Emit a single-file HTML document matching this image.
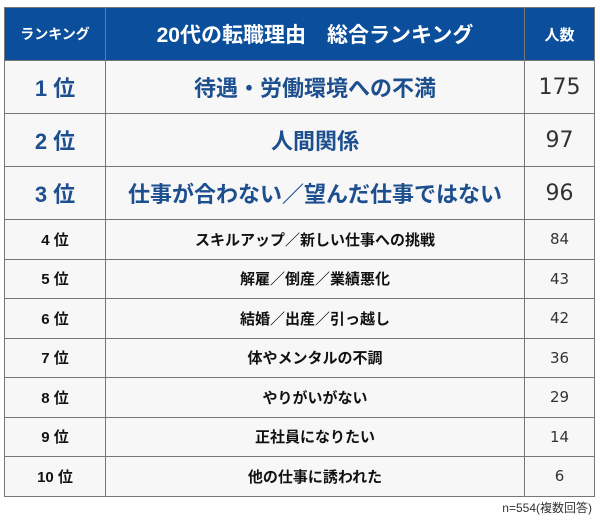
<!DOCTYPE html>
<html><head><meta charset="utf-8"><style>
body{margin:0;width:600px;height:520px;background:#fff;font-family:"Liberation Sans","Noto Sans CJK JP",sans-serif;overflow:hidden}
table{position:absolute;left:4px;top:7px;border-collapse:collapse;width:591px}
td{border:1px solid #777;background:#f7f7f8;text-align:center;padding:0}
th{background:#0b4e9b;color:#fff;border:1px solid #777;font-weight:bold;padding:0}
.c1{width:100px}.c3{width:69px}
.big td{height:52px;color:#1d4f8f;font-weight:bold;font-size:22px}
.big td.n{color:#333;font-weight:normal;font-size:22px;font-family:"DejaVu Sans",sans-serif}
.sm td{height:38.5px;font-weight:bold;font-size:15px;color:#111}
.sm td.n{font-weight:normal;font-family:"DejaVu Sans",sans-serif;color:#333}
#foot{position:absolute;right:8px;top:499px;font-size:12px;color:#333}
</style></head><body>
<table>
<tr style="height:53px"><th class="c1" style="font-size:14px">ランキング</th><th style="font-size:21px">20代の転職理由　総合ランキング</th><th class="c3" style="font-size:15px">人数</th></tr>
<tr class="big"><td>1 位</td><td>待遇・労働環境への不満</td><td class="n">175</td></tr>
<tr class="big"><td>2 位</td><td>人間関係</td><td class="n">97</td></tr>
<tr class="big"><td>3 位</td><td>仕事が合わない／望んだ仕事ではない</td><td class="n">96</td></tr>
<tr class="sm"><td>4 位</td><td>スキルアップ／新しい仕事への挑戦</td><td class="n">84</td></tr>
<tr class="sm"><td>5 位</td><td>解雇／倒産／業績悪化</td><td class="n">43</td></tr>
<tr class="sm"><td>6 位</td><td>結婚／出産／引っ越し</td><td class="n">42</td></tr>
<tr class="sm"><td>7 位</td><td>体やメンタルの不調</td><td class="n">36</td></tr>
<tr class="sm"><td>8 位</td><td>やりがいがない</td><td class="n">29</td></tr>
<tr class="sm"><td>9 位</td><td>正社員になりたい</td><td class="n">14</td></tr>
<tr class="sm"><td>10 位</td><td>他の仕事に誘われた</td><td class="n">6</td></tr>
</table>
<div id="foot">n=554(複数回答)</div>
</body></html>
